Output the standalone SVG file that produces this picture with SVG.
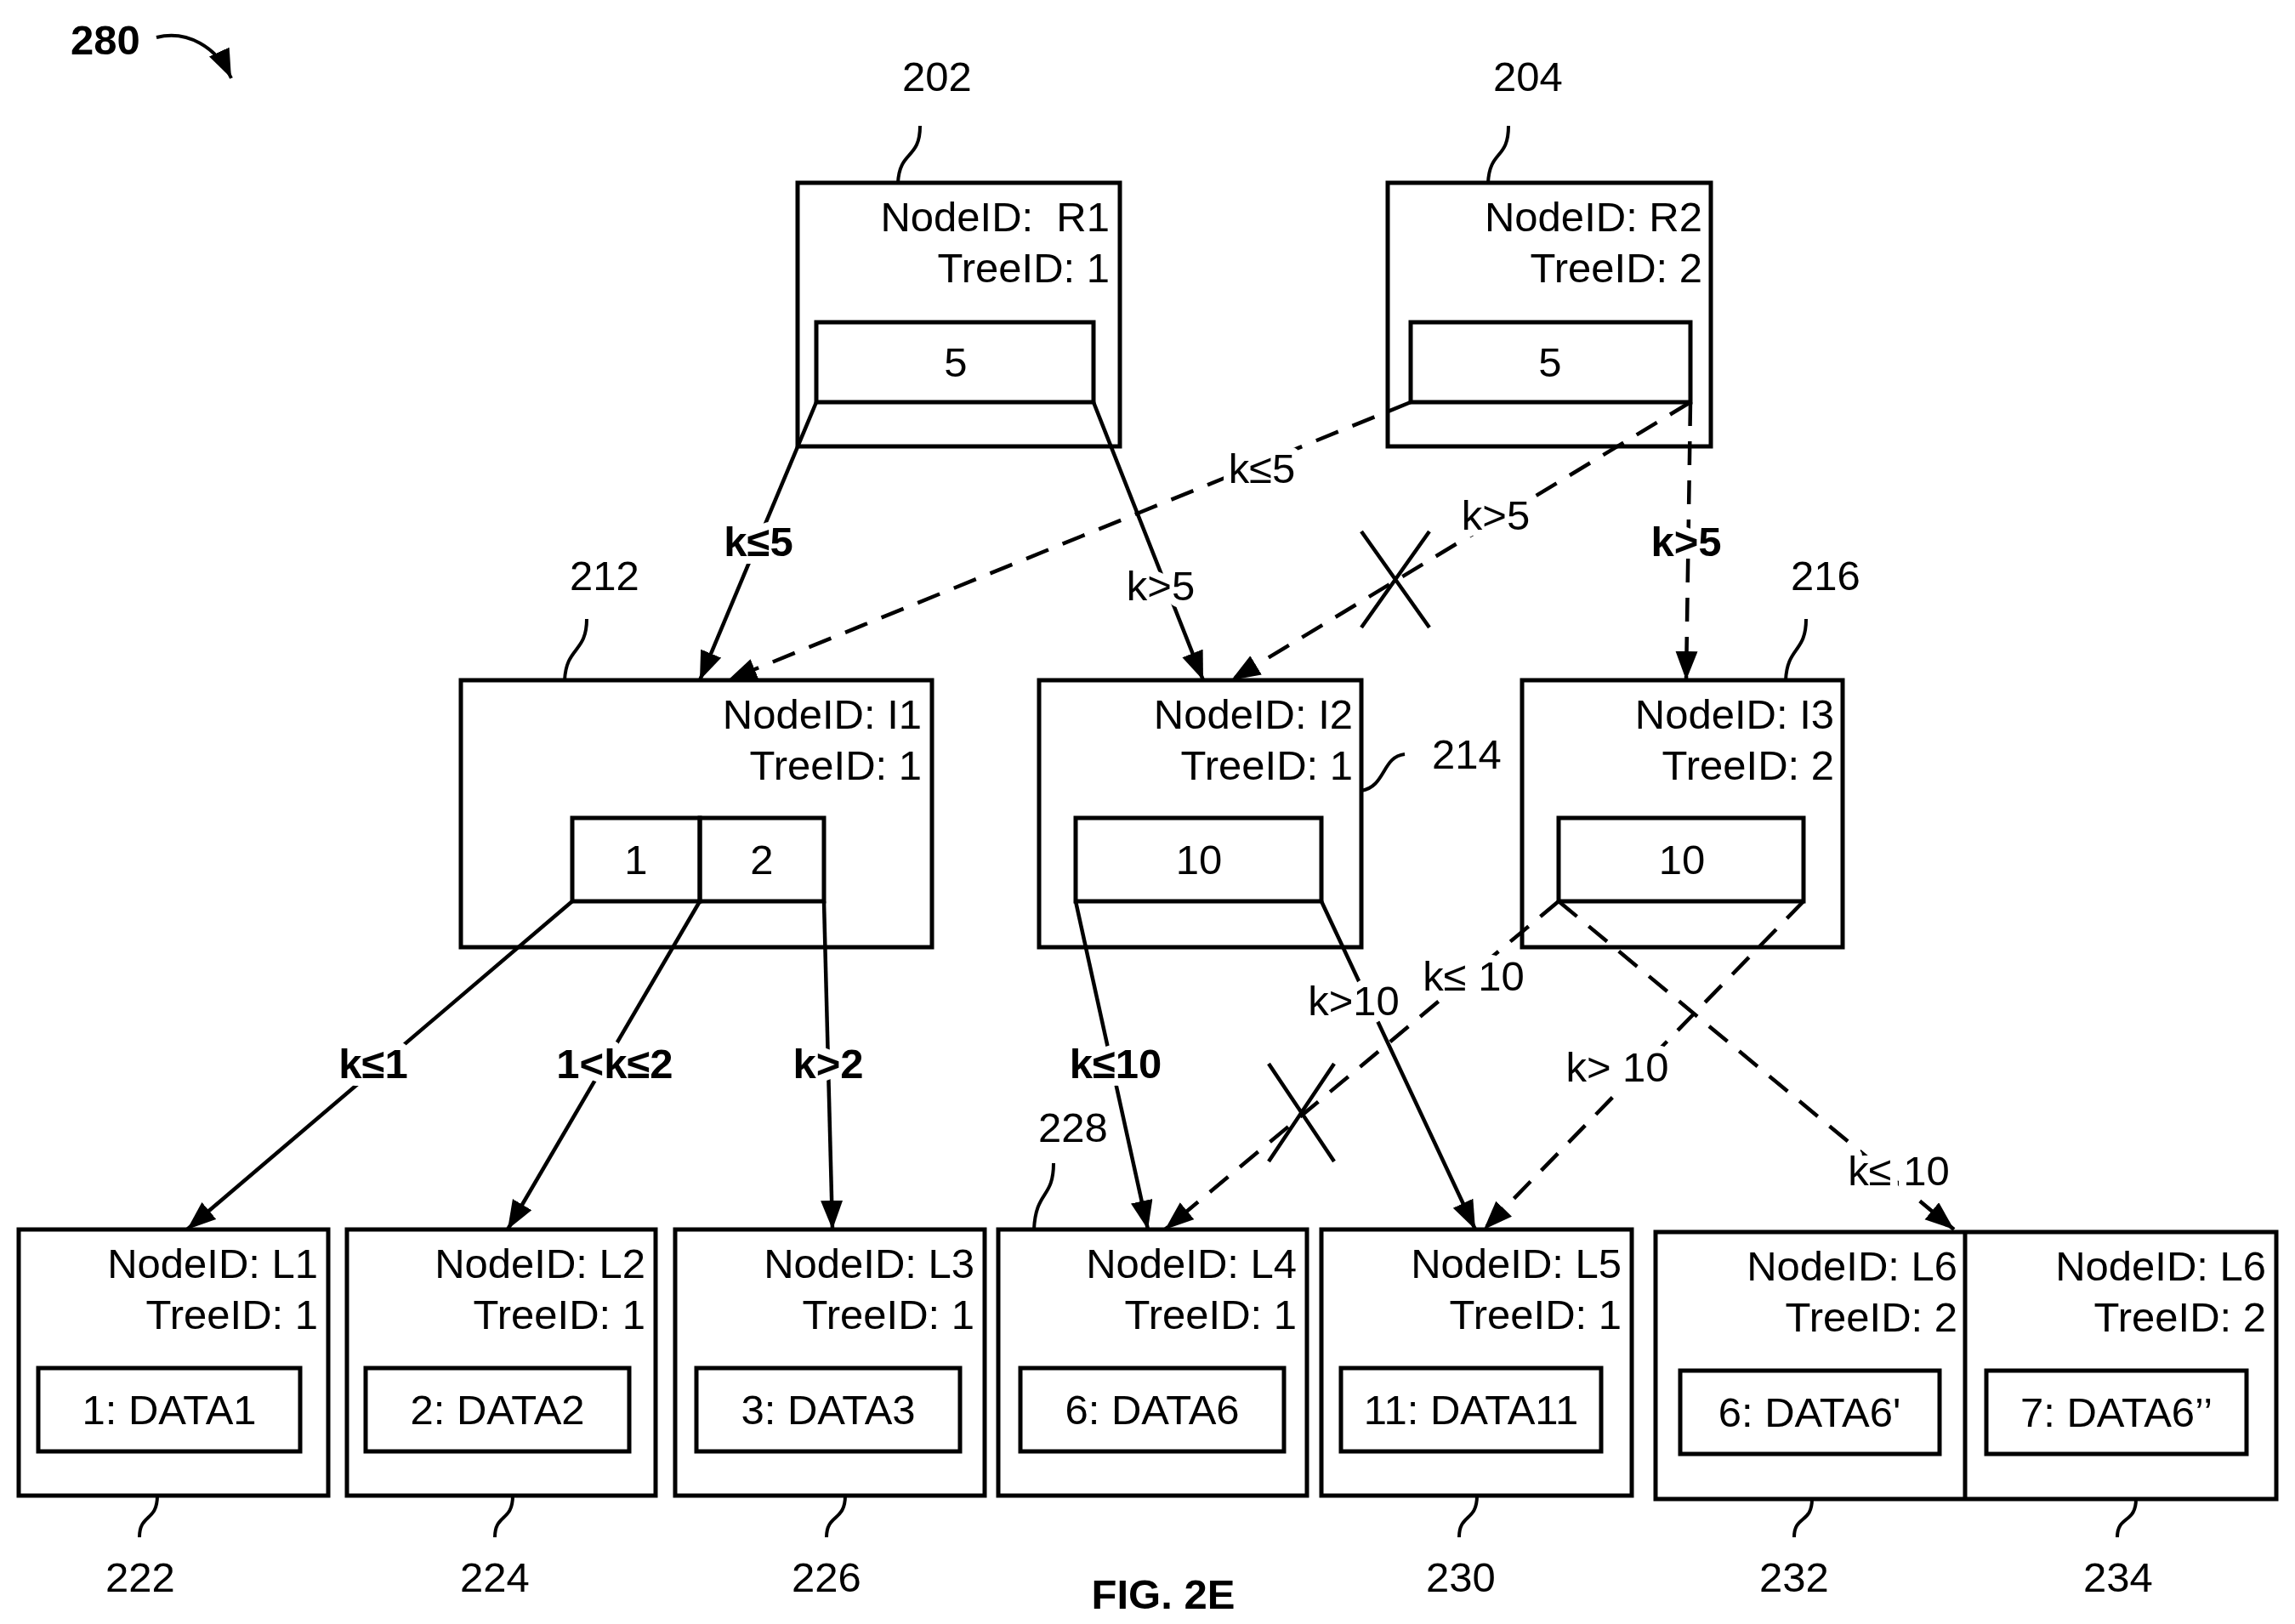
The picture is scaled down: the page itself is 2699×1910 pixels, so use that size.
<svg xmlns="http://www.w3.org/2000/svg" width="2699" height="1910" viewBox="0 0 2699 1910">
<style>
text{font-family:"Liberation Sans",Arial,sans-serif;font-size:49px;fill:#000}
.r{text-anchor:end}.m{text-anchor:middle}.b{font-weight:bold}
.box{fill:#fff;stroke:#000;stroke-width:5}
.in{fill:none;stroke:#000;stroke-width:5}
.c{fill:none;stroke:#000;stroke-width:4.5}
.d{stroke-dasharray:28 18}
.lead{fill:none;stroke:#000;stroke-width:4}
.lbl{paint-order:stroke;stroke:#fff;stroke-width:18px;stroke-linejoin:round;text-anchor:middle}
</style>
<defs>
<marker id="a" markerUnits="userSpaceOnUse" markerWidth="40" markerHeight="30" refX="34" refY="13" orient="auto"><path d="M0,0 L34,13 L0,26 Z" fill="#000"/></marker>
</defs>
<rect width="2699" height="1910" fill="#fff"/>
<g id="title">
<text x="124" y="64" class="m b" font-size="64">280</text>
<path d="M184,44 C220,35 255,55 272,92" class="lead" stroke-width="5" marker-end="url(#a)"/>
<text x="1368" y="1892" class="m b" font-size="70">FIG. 2E</text>
</g>
<g id="R1"><rect x="938" y="215" width="379" height="310" class="box"/><rect x="960" y="379" width="326" height="94" class="in"/>
<text x="1305" y="272" class="r">NodeID:&#160; R1</text><text x="1305" y="332" class="r">TreeID: 1</text><text x="1124" y="443" class="m">5</text>
<text x="1102" y="107" class="m">202</text><path d="M1082,148 C1082,188 1058,176 1056,215" class="lead"/></g>
<g id="R2"><rect x="1632" y="215" width="380" height="310" class="box"/><rect x="1659" y="379" width="329" height="94" class="in"/>
<text x="2002" y="272" class="r">NodeID: R2</text><text x="2002" y="332" class="r">TreeID: 2</text><text x="1823" y="443" class="m">5</text>
<text x="1797" y="107" class="m">204</text><path d="M1774,148 C1774,188 1752,176 1750,215" class="lead"/></g>
<g id="I1"><rect x="542" y="800" width="554" height="314" class="box"/><rect x="673" y="962" width="150" height="98" class="in"/><rect x="823" y="962" width="146" height="98" class="in"/>
<text x="1084" y="857" class="r">NodeID: I1</text><text x="1084" y="917" class="r">TreeID: 1</text><text x="748" y="1028" class="m">1</text><text x="896" y="1028" class="m">2</text>
<text x="711" y="694" class="m">212</text><path d="M690,728 C690,768 666,760 664,800" class="lead"/></g>
<g id="I2"><rect x="1222" y="800" width="379" height="314" class="box"/><rect x="1265" y="962" width="289" height="98" class="in"/>
<text x="1591" y="857" class="r">NodeID: I2</text><text x="1591" y="917" class="r">TreeID: 1</text><text x="1410" y="1028" class="m">10</text>
<text x="1725" y="904" class="m">214</text><path d="M1601,930 C1630,925 1625,890 1652,887" class="lead"/></g>
<g id="I3"><rect x="1790" y="800" width="377" height="314" class="box"/><rect x="1833" y="962" width="288" height="98" class="in"/>
<text x="2157" y="857" class="r">NodeID: I3</text><text x="2157" y="917" class="r">TreeID: 2</text><text x="1978" y="1028" class="m">10</text>
<text x="2147" y="694" class="m">216</text><path d="M2124,728 C2124,768 2102,760 2100,800" class="lead"/></g>
<g id="L1"><rect x="22" y="1446" width="364" height="313" class="box"/><rect x="45" y="1609" width="308" height="98" class="in"/>
<text x="374" y="1503" class="r">NodeID: L1</text><text x="374" y="1563" class="r">TreeID: 1</text><text x="199" y="1675" class="m">1: DATA1</text>
<text x="165" y="1872" class="m">222</text><path d="M185,1759 C185,1790 164,1780 164,1808" class="lead"/></g>
<g id="L2"><rect x="408" y="1446" width="363" height="313" class="box"/><rect x="430" y="1609" width="310" height="98" class="in"/>
<text x="759" y="1503" class="r">NodeID: L2</text><text x="759" y="1563" class="r">TreeID: 1</text><text x="585" y="1675" class="m">2: DATA2</text>
<text x="582" y="1872" class="m">224</text><path d="M603,1759 C603,1790 582,1780 582,1808" class="lead"/></g>
<g id="L3"><rect x="794" y="1446" width="364" height="313" class="box"/><rect x="819" y="1609" width="310" height="98" class="in"/>
<text x="1146" y="1503" class="r">NodeID: L3</text><text x="1146" y="1563" class="r">TreeID: 1</text><text x="974" y="1675" class="m">3: DATA3</text>
<text x="972" y="1872" class="m">226</text><path d="M994,1759 C994,1790 972,1780 972,1808" class="lead"/></g>
<g id="L4"><rect x="1174" y="1446" width="363" height="313" class="box"/><rect x="1200" y="1609" width="310" height="98" class="in"/>
<text x="1525" y="1503" class="r">NodeID: L4</text><text x="1525" y="1563" class="r">TreeID: 1</text><text x="1355" y="1675" class="m">6: DATA6</text>
<text x="1262" y="1343" class="m">228</text><path d="M1239,1368 C1239,1410 1218,1400 1216,1446" class="lead"/></g>
<g id="L5"><rect x="1554" y="1446" width="365" height="313" class="box"/><rect x="1577" y="1609" width="306" height="98" class="in"/>
<text x="1907" y="1503" class="r">NodeID: L5</text><text x="1907" y="1563" class="r">TreeID: 1</text><text x="1730" y="1675" class="m">11: DATA11</text>
<text x="1718" y="1872" class="m">230</text><path d="M1737,1759 C1737,1790 1716,1780 1716,1808" class="lead"/></g>
<g id="L6"><rect x="1947" y="1449" width="730" height="314" class="box"/><line x1="2311" y1="1449" x2="2311" y2="1763" class="in"/>
<rect x="1976" y="1612" width="305" height="98" class="in"/><rect x="2336" y="1612" width="306" height="98" class="in"/>
<text x="2302" y="1506" class="r">NodeID: L6</text><text x="2302" y="1566" class="r">TreeID: 2</text><text x="2128" y="1678" class="m">6: DATA6'</text>
<text x="2665" y="1506" class="r">NodeID: L6</text><text x="2665" y="1566" class="r">TreeID: 2</text><text x="2489" y="1678" class="m">7: DATA6’’</text>
<text x="2110" y="1872" class="m">232</text><path d="M2131,1763 C2131,1792 2110,1782 2110,1808" class="lead"/>
<text x="2491" y="1872" class="m">234</text><path d="M2512,1763 C2512,1792 2490,1782 2490,1808" class="lead"/></g>
<g id="connectors">
<path d="M960,473 L823,800" class="c" marker-end="url(#a)"/>
<path d="M1286,473 L1415,800" class="c" marker-end="url(#a)"/>
<path d="M1659,473 L856,800" class="c d" marker-end="url(#a)"/>
<path d="M1988,473 L1448,800" class="c d" marker-end="url(#a)"/>
<path d="M1988,473 L1983,800" class="c d" marker-end="url(#a)"/>
<path d="M673,1060 L220,1446" class="c" marker-end="url(#a)"/>
<path d="M823,1060 L597,1446" class="c" marker-end="url(#a)"/>
<path d="M969,1060 L979,1446" class="c" marker-end="url(#a)"/>
<path d="M1265,1060 L1350,1446" class="c" marker-end="url(#a)"/>
<path d="M1554,1060 L1735,1446" class="c" marker-end="url(#a)"/>
<path d="M1833,1060 L1370,1446" class="c d" marker-end="url(#a)"/>
<path d="M2121,1060 L1745,1446" class="c d" marker-end="url(#a)"/>
<path d="M1833,1060 L2298,1446" class="c d" marker-end="url(#a)"/>
<path d="M1601,625 L1681,738 M1681,625 L1601,738" class="c"/>
<path d="M1492,1251 L1569,1366 M1569,1251 L1492,1366" class="c"/>
<text x="892" y="654" class="lbl b">k≤5</text>
<text x="1365" y="706" class="lbl">k&gt;5</text>
<text x="1484" y="568" class="lbl">k≤5</text>
<text x="1759" y="623" class="lbl">k&gt;5</text>
<text x="1983" y="654" class="lbl b">k&gt;5</text>
<text x="439" y="1268" class="lbl b">k≤1</text>
<text x="723" y="1268" class="lbl b">1&lt;k≤2</text>
<text x="974" y="1268" class="lbl b">k&gt;2</text>
<text x="1312" y="1268" class="lbl b">k≤10</text>
<text x="1592" y="1194" class="lbl">k&gt;10</text>
<text x="1733" y="1165" class="lbl">k≤ 10</text>
<text x="1902" y="1272" class="lbl">k&gt; 10</text>
<text x="2233" y="1394" class="lbl">k≤ 10</text>
</g>
</svg>
